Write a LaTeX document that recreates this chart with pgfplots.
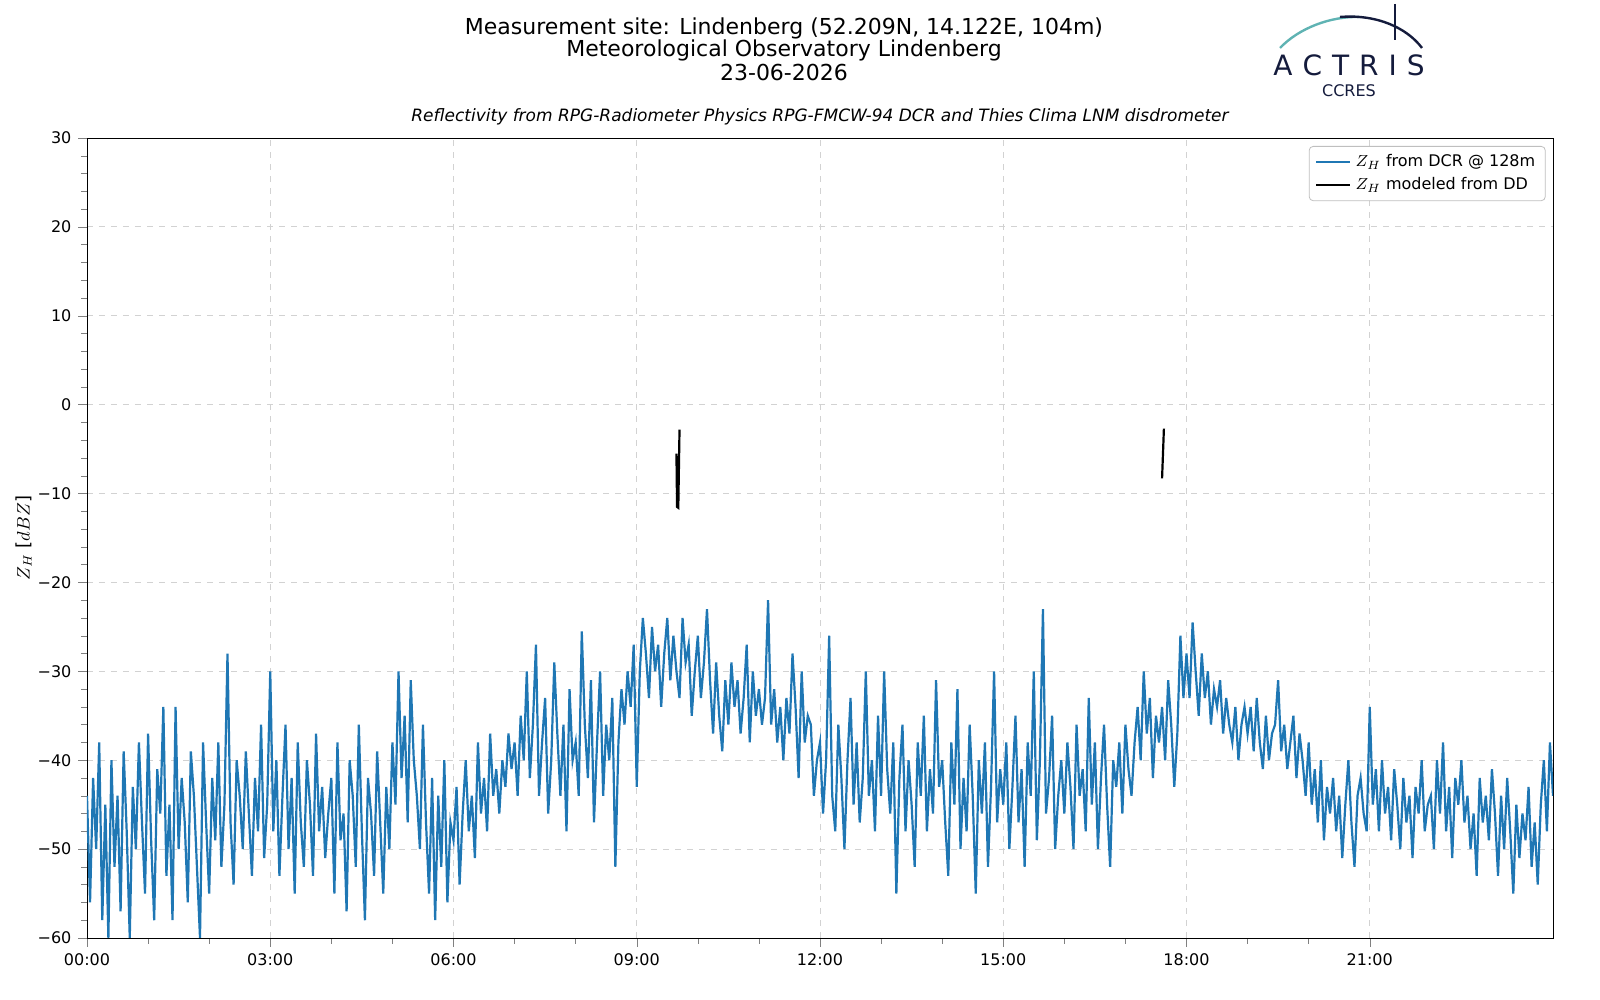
\documentclass[border=0pt]{standalone}
\usepackage{pgfplots}
\pgfplotsset{compat=1.18}
\usepackage{pgfplotstable}
\usepackage{fontspec}
\setmainfont{DejaVu Sans}
\pgfplotstableread[row sep=\\,col sep=comma]{
y\\
-44\\-56\\-42\\-50\\-38\\-58\\-45\\-60\\-40\\-52\\-44\\-57\\-39\\-48\\-60\\-43\\-50\\-38\\-47\\-55\\
-37\\-49\\-58\\-41\\-46\\-34\\-53\\-45\\-58\\-34\\-50\\-42\\-47\\-56\\-39\\-44\\-52\\-60\\-38\\-47\\
-55\\-42\\-49\\-38\\-52\\-45\\-28\\-47\\-54\\-40\\-44\\-50\\-39\\-46\\-53\\-42\\-48\\-36\\-51\\-45\\
-30\\-48\\-40\\-53\\-44\\-36\\-50\\-42\\-55\\-38\\-47\\-52\\-40\\-45\\-53\\-37\\-48\\-43\\-51\\-46\\
-42\\-55\\-38\\-49\\-46\\-57\\-40\\-44\\-52\\-36\\-48\\-58\\-42\\-46\\-53\\-39\\-47\\-55\\-43\\-50\\
-38\\-45\\-30\\-42\\-35\\-47\\-31\\-40\\-44\\-50\\-36\\-47\\-55\\-42\\-58\\-44\\-52\\-40\\-56\\-47\\
-49\\-43\\-54\\-46\\-40\\-48\\-44\\-51\\-38\\-46\\-42\\-48\\-37\\-44\\-41\\-46\\-40\\-43\\-37\\-41\\
-38\\-44\\-35\\-40\\-30\\-42\\-36\\-27\\-44\\-38\\-33\\-46\\-40\\-29\\-37\\-44\\-36\\-48\\-32\\-40\\
-38\\-44\\-25.5\\-36\\-42\\-31\\-47\\-38\\-30\\-44\\-36\\-40\\-33\\-52\\-38\\-32\\-36\\-30\\-34\\-27\\
-43\\-30\\-24\\-28\\-33\\-25\\-30\\-27\\-34\\-28\\-24\\-31\\-26\\-30\\-33\\-24\\-29\\-27\\-35\\-30\\
-26\\-33\\-29\\-23\\-31\\-37\\-29\\-35\\-39\\-31\\-36\\-29\\-34\\-31\\-37\\-33\\-27\\-38\\-30\\-35\\
-32\\-36\\-33\\-22\\-36\\-32\\-38\\-34\\-40\\-33\\-37\\-28\\-34\\-42\\-30\\-38\\-35\\-36\\-44\\-40\\
-38\\-46\\-40\\-26\\-44\\-48\\-36\\-42\\-50\\-40\\-33\\-45\\-38\\-47\\-42\\-30\\-44\\-40\\-48\\-35\\
-44\\-30\\-41\\-46\\-38\\-55\\-42\\-36\\-48\\-40\\-45\\-52\\-38\\-44\\-35\\-48\\-41\\-46\\-31\\-43\\
-40\\-47\\-53\\-38\\-45\\-32\\-50\\-42\\-48\\-36\\-44\\-55\\-40\\-46\\-38\\-52\\-43\\-30\\-47\\-41\\
-45\\-38\\-50\\-43\\-35\\-47\\-41\\-52\\-38\\-44\\-30\\-49\\-40\\-23\\-46\\-42\\-35\\-50\\-44\\-40\\
-46\\-38\\-43\\-50\\-36\\-44\\-41\\-48\\-33\\-45\\-38\\-50\\-42\\-36\\-45\\-52\\-40\\-43\\-38\\-46\\
-36\\-41\\-44\\-38\\-34\\-40\\-30\\-37\\-33\\-42\\-35\\-38\\-34\\-40\\-31\\-36\\-43\\-37\\-26\\-33\\
-28\\-33\\-24.5\\-30\\-35\\-28\\-33\\-30\\-36\\-32\\-34\\-31\\-37\\-33\\-36\\-38\\-34\\-40\\-36\\-34\\
-37\\-34\\-39\\-33\\-38\\-41\\-35\\-40\\-37\\-36\\-31\\-39\\-36\\-41\\-38\\-35\\-42\\-37\\-40\\-44\\
-38\\-45\\-41\\-47\\-40\\-49\\-43\\-46\\-42\\-48\\-44\\-51\\-45\\-40\\-47\\-52\\-44\\-42\\-46\\-48\\
-34\\-45\\-41\\-48\\-40\\-46\\-43\\-49\\-41\\-45\\-50\\-42\\-47\\-44\\-51\\-43\\-46\\-40\\-48\\-45\\
-44\\-50\\-40\\-46\\-38\\-48\\-43\\-51\\-42\\-45\\-40\\-47\\-44\\-50\\-46\\-53\\-42\\-47\\-44\\-49\\
-41\\-46\\-53\\-44\\-50\\-42\\-48\\-55\\-45\\-51\\-46\\-49\\-43\\-52\\-47\\-54\\-45\\-40\\-48\\-38\\
-44\\
}\dcr
\definecolor{mplblue}{HTML}{1F77B4}
\definecolor{navy}{HTML}{141B3C}
\definecolor{logoteal}{HTML}{5FB3B3}
\begin{document}
\begin{tikzpicture}
\begin{axis}[
  at={(0,0)}, anchor=south west, scale only axis,
  width=733pt, height=400pt,
  xmin=0, xmax=24, ymin=-60, ymax=30,
  xtick={0,3,...,21}, xticklabels={00:00,03:00,06:00,09:00,12:00,15:00,18:00,21:00},
  ytick={-60,-50,...,30}, yticklabels={−60,−50,−40,−30,−20,−10,0,10,20,30},
  minor x tick num=2, minor y tick num=4,
  grid=major, major grid style={gray!35, dashed},
  tick align=outside, tick pos=left,
  ticklabel style={font=\fontsize{8}{9}\selectfont},
  ylabel={$Z_H$ [$dBZ$]}, ylabel style={font=\fontsize{9}{10}\selectfont, yshift=-4pt},
  title={\itshape Reflectivity from RPG-Radiometer Physics RPG-FMCW-94 DCR and Thies Clima LNM disdrometer},
  title style={font=\fontsize{8.5}{10}\selectfont, yshift=-3pt},
  legend style={at={(rel axis cs:0.995,0.99)}, anchor=north east, font=\fontsize{8}{10}\selectfont, draw=gray!50, rounded corners=2pt},
  legend cell align=left,
]
\addplot[mplblue, line width=1.1pt] table[x expr=\coordindex/20, y index=0] {\dcr};
\addlegendentry{$Z_H$ from DCR @ 128m}
\addplot[black, line width=1.1pt] coordinates {(9.65,-5.5) (9.66,-11.5) (9.68,-11.6) (9.7,-2.8)};
\addlegendentry{$Z_H$ modeled from DD}
\addplot[black, line width=1.1pt, forget plot] coordinates {(17.6,-8.3) (17.63,-2.7)};
\end{axis}
\node[font=\fontsize{11}{12}\selectfont] at (348.5pt,455pt) {Measurement site: Lindenberg (52.209N, 14.122E, 104m)};
\node[font=\fontsize{11}{12}\selectfont] at (348.5pt,444pt) {Meteorological Observatory Lindenberg};
\node[font=\fontsize{11}{12}\selectfont] at (348.5pt,432.5pt) {23-06-2026};
\draw[logoteal, line width=1.2pt] (596.5pt,445pt) .. controls (606pt,455pt) and (622pt,461pt) .. (636.5pt,460.5pt);
\draw[navy, line width=1.2pt] (626.5pt,460.5pt) .. controls (645pt,462pt) and (660pt,455pt) .. (667.5pt,445pt);
\draw[navy, line width=0.8pt] (654pt,467pt) -- (654pt,449pt);
\node[navy, font=\fontsize{14}{16}\selectfont] at (631pt,436.5pt) {A\kern5pt C\kern5pt T\kern5pt R\kern5pt I\kern5pt S};
\node[navy, font=\fontsize{8}{9}\selectfont] at (631pt,423.5pt) {CCRES};
\pgfresetboundingbox
\path[use as bounding box] (-43.5pt,-31pt) rectangle (756.5pt,469pt);
\end{tikzpicture}
\end{document}
